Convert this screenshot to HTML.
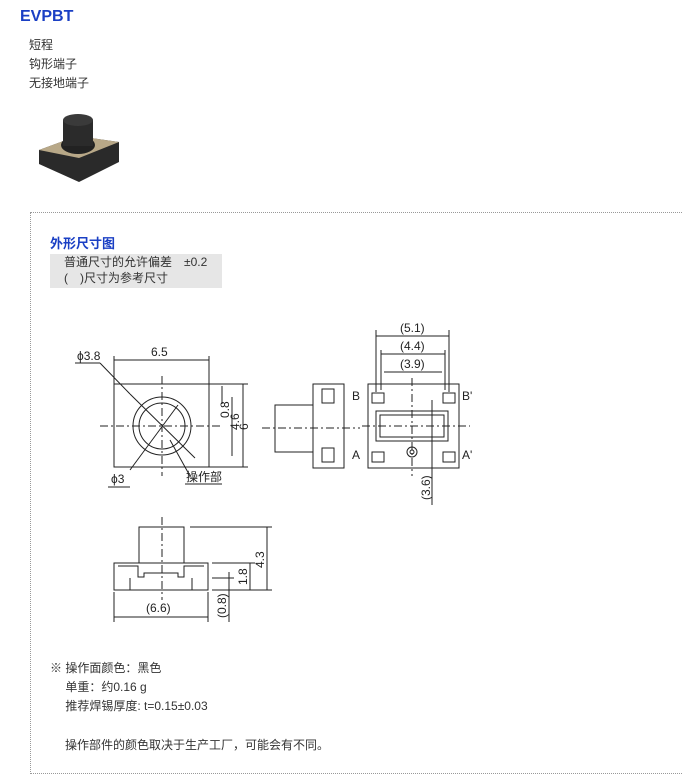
<!DOCTYPE html>
<html><head><meta charset="utf-8"><style>
body{margin:0;width:682px;height:774px;background:#fff;font-family:"Liberation Sans","Noto Sans CJK SC",sans-serif;position:relative;overflow:hidden}
.a{position:absolute;font-size:12px;color:#333;white-space:nowrap}
</style></head><body>
<div class="a" style="left:20px;top:8px;font-size:16px;font-weight:bold;color:#1a3fc4">EVPBT</div>
<div class="a" style="left:29px;top:36px;line-height:19px">短程<br>钩形端子<br>无接地端子</div>
<svg style="position:absolute;left:35px;top:112px" width="90" height="75">
<polygon points="4,38 42,24 84,30 84,50 44,70 4,52" fill="#2a2a2a"/>
<polygon points="4,38 42,24 84,30 44,46" fill="#b8a888"/>
<ellipse cx="43" cy="33" rx="17" ry="9" fill="#222"/>
<rect x="28" y="8" width="30" height="26" fill="#2b2b2b"/>
<ellipse cx="43" cy="8" rx="15" ry="6" fill="#3a3a3a"/>
</svg>
<div style="position:absolute;left:30px;top:212px;width:660px;height:560px;border:1px dotted #999"></div>
<div class="a" style="left:50px;top:233px;font-size:13px;font-weight:bold;color:#1a3fc4">外形尺寸图</div>
<div class="a" style="left:50px;top:254px;width:158px;height:34px;background:#e6e6e6;padding-left:14px;line-height:16px;font-size:12px">普通尺寸的允许偏差　±0.2<br>(　)尺寸为参考尺寸</div>
<svg style="position:absolute;left:0;top:0" width="682" height="774" font-family="Liberation Sans,sans-serif" font-size="12" fill="none" stroke="#222" stroke-width="1">
<rect x="114" y="384" width="95" height="83"/>
<circle cx="162" cy="426" r="29"/><circle cx="162" cy="426" r="23"/>
<line x1="162" y1="376" x2="162" y2="476" stroke-dasharray="8,3,2,3"/>
<line x1="100" y1="426" x2="222" y2="426" stroke-dasharray="8,3,2,3"/>
<line x1="114" y1="360" x2="209" y2="360"/><line x1="114" y1="356" x2="114" y2="384"/><line x1="209" y1="356" x2="209" y2="384"/>
<line x1="209" y1="384" x2="248" y2="384"/><line x1="209" y1="467" x2="248" y2="467"/>
<line x1="243" y1="384" x2="243" y2="467"/><line x1="232" y1="397" x2="232" y2="456"/><line x1="222" y1="386" x2="222" y2="404"/>
<line x1="130" y1="394" x2="195" y2="458"/><line x1="130" y1="470" x2="178" y2="405"/><line x1="170" y1="440" x2="190" y2="476"/>
<line x1="100" y1="363" x2="130" y2="394"/><line x1="100" y1="363" x2="75" y2="363"/>
<line x1="108" y1="487" x2="130" y2="487"/><line x1="185" y1="484" x2="222" y2="484"/>
<rect x="313" y="384" width="31" height="84"/><rect x="275" y="405" width="38" height="47"/>
<rect x="322" y="389" width="12" height="14"/><rect x="322" y="448" width="12" height="14"/>
<line x1="262" y1="428" x2="360" y2="428" stroke-dasharray="8,3,2,3"/>
<rect x="368" y="384" width="91" height="84"/><rect x="376" y="411" width="72" height="30"/><rect x="380" y="415" width="64" height="22"/>
<circle cx="412" cy="452" r="5"/><circle cx="412" cy="452" r="2"/>
<rect x="372" y="393" width="12" height="10"/><rect x="443" y="393" width="12" height="10"/><rect x="372" y="452" width="12" height="10"/><rect x="443" y="452" width="12" height="10"/>
<line x1="412" y1="378" x2="412" y2="476" stroke-dasharray="8,3,2,3"/><line x1="362" y1="426" x2="470" y2="426" stroke-dasharray="8,3,2,3"/>
<line x1="376" y1="336" x2="449" y2="336"/><line x1="381" y1="354" x2="445" y2="354"/><line x1="384" y1="372" x2="442" y2="372"/>
<line x1="376" y1="330" x2="376" y2="392"/><line x1="449" y1="330" x2="449" y2="392"/><line x1="381" y1="350" x2="381" y2="390"/><line x1="445" y1="350" x2="445" y2="390"/>
<line x1="432" y1="400" x2="432" y2="505"/>
<rect x="139" y="527" width="45" height="36"/><rect x="114" y="563" width="94" height="27"/>
<path d="M118 566h20v11h6v-4h34v4h6v-11h20M130 578v12M192 578v12"/>
<line x1="162" y1="517" x2="162" y2="600" stroke-dasharray="8,3,2,3"/>
<line x1="190" y1="527" x2="272" y2="527"/><line x1="212" y1="563" x2="255" y2="563"/><line x1="212" y1="590" x2="272" y2="590"/><line x1="212" y1="578" x2="234" y2="578"/>
<line x1="267" y1="527" x2="267" y2="590"/><line x1="250" y1="563" x2="250" y2="590"/><line x1="229" y1="572" x2="229" y2="622"/>
<line x1="114" y1="592" x2="114" y2="622"/><line x1="208" y1="592" x2="208" y2="622"/><line x1="114" y1="617" x2="208" y2="617"/>
<g fill="#222" stroke="none">
<text x="151" y="356">6.5</text><text x="77" y="360">ϕ3.8</text><text x="111" y="483">ϕ3</text><text x="186" y="481">操作部</text>
<text x="400" y="332">(5.1)</text><text x="400" y="350">(4.4)</text><text x="400" y="368">(3.9)</text>
<text x="352" y="400">B</text><text x="462" y="400">B'</text><text x="352" y="459">A</text><text x="462" y="459">A'</text>
<text x="146" y="612">(6.6)</text>
<text transform="translate(248,430) rotate(-90)">6</text><text transform="translate(239,430) rotate(-90)">4.6</text><text transform="translate(229,418) rotate(-90)">0.8</text>
<text transform="translate(430,500) rotate(-90)">(3.6)</text>
<text transform="translate(264,568) rotate(-90)">4.3</text><text transform="translate(247,585) rotate(-90)">1.8</text><text transform="translate(226,618) rotate(-90)">(0.8)</text>
</g></svg>
<div class="a" style="left:50px;top:659px;line-height:19px">※ 操作面颜色：黑色<br>　 单重：约0.16 g<br>　 推荐焊锡厚度: t=0.15±0.03</div>
<div class="a" style="left:65px;top:736px">操作部件的颜色取决于生产工厂，可能会有不同。</div>
</body></html>
